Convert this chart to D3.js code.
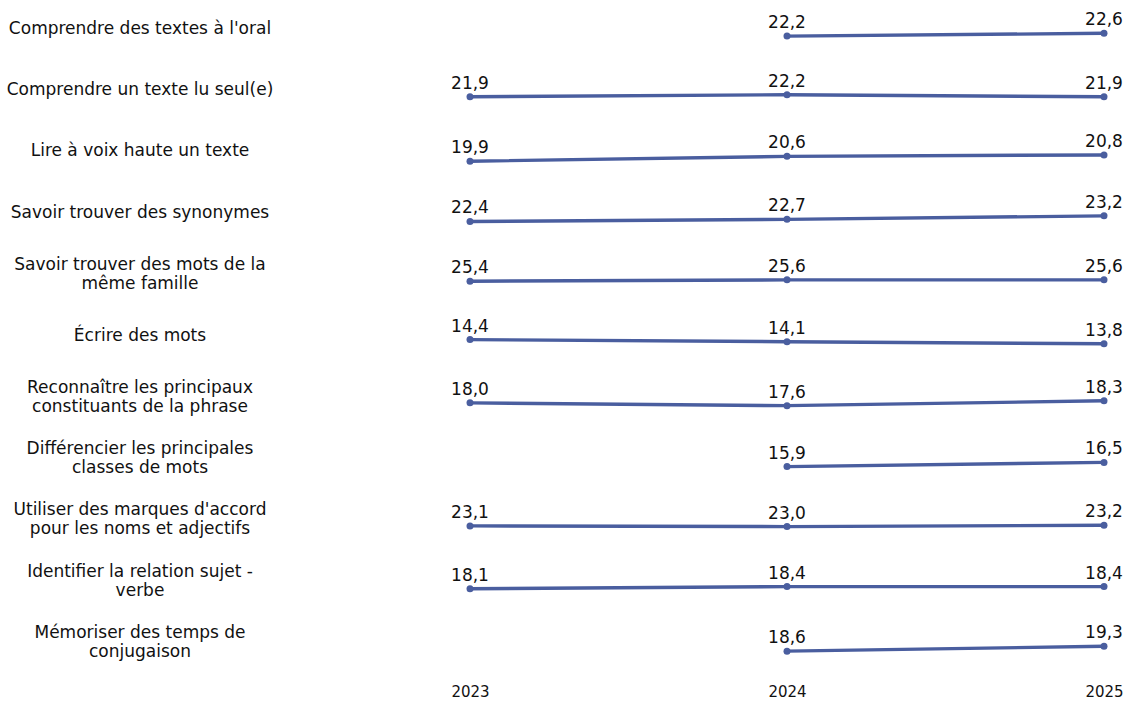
<!DOCTYPE html>
<html>
<head>
<meta charset="utf-8">
<script src="https://cdn.jsdelivr.net/npm/d3@7"></script>
<style>
  body { margin: 0; background: #fff; }
  text { font-family: "DejaVu Sans", sans-serif; fill: #111; }
</style>
</head>
<body>
<svg id="drawing_region"></svg>
<script>
// categories (line breaks as in the original labels)
const categories = [
    "Comprendre des textes à l'oral",
    "Comprendre un texte lu seul(e)",
    "Lire à voix haute un texte",
    "Savoir trouver des synonymes",
    "Savoir trouver des mots de la\nmême famille",
    "Écrire des mots",
    "Reconnaître les principaux\nconstituants de la phrase",
    "Différencier les principales\nclasses de mots",
    "Utiliser des marques d'accord\npour les noms et adjectifs",
    "Identifier la relation sujet -\nverbe",
    "Mémoriser des temps de\nconjugaison"
];
const years = ["2023", "2024", "2025"];
const values2023 = [null, 21.9, 19.9, 22.4, 25.4, 14.4, 18.0, null, 23.1, 18.1, null];
const values2024 = [22.2, 22.2, 20.6, 22.7, 25.6, 14.1, 17.6, 15.9, 23.0, 18.4, 18.6];
const values2025 = [22.6, 21.9, 20.8, 23.2, 25.6, 13.8, 18.3, 16.5, 23.2, 18.4, 19.3];

const rows = categories.map((c, i) => ({
    label: c,
    points: [values2023[i], values2024[i], values2025[i]]
        .map((v, j) => ({ year: years[j], value: v }))
        .filter(d => d.value !== null)
}));

const config = {
    width: 1126,
    height: 702,
    labelX: 140,
    top: 4,
    rowStep: 61.4,
    pxPerUnit: 7,
    color: '#4a5e9f'
};

const fmt = v => d3.format('.1f')(v).replace('.', ',');

const svg = d3.select('#drawing_region')
    .attr('width', config.width)
    .attr('height', config.height);

const xscale = d3.scalePoint()
    .domain(years)
    .range([470, 1104]);

const rowscale = d3.scaleBand()
    .domain(categories)
    .range([config.top, config.top + config.rowStep * categories.length]);

const line = d3.line();

rows.forEach(row => {
    const center = rowscale(row.label) + rowscale.bandwidth() / 2;
    const mean = d3.mean(row.points, d => d.value);
    // each row has its own small y scale centred on its mean
    const yscale = d3.scaleLinear()
        .domain([mean - 4, mean + 4])
        .range([center + 4 * config.pxPerUnit, center - 4 * config.pxPerUnit]);

    const g = svg.append('g');

    // row label
    const lines = row.label.split('\n');
    const lh = 19;
    const label = g.append('text')
        .attr('text-anchor', 'middle')
        .attr('font-size', 17);
    lines.forEach((t, k) => {
        label.append('tspan')
            .attr('x', config.labelX)
            .attr('y', center - 7 - (lines.length - 1) * lh / 2 + k * lh)
            .attr('dy', '0.35em')
            .text(t);
    });

    g.append('path')
        .attr('d', line(row.points.map(d => [xscale(d.year), yscale(d.value)])))
        .attr('fill', 'none')
        .attr('stroke', config.color)
        .attr('stroke-width', 3.4);

    g.selectAll('circle')
        .data(row.points)
        .join('circle')
        .attr('cx', d => xscale(d.year))
        .attr('cy', d => yscale(d.value))
        .attr('r', 3.5)
        .attr('fill', config.color);

    g.selectAll('text.val')
        .data(row.points)
        .join('text')
        .attr('class', 'val')
        .attr('x', d => xscale(d.year))
        .attr('y', d => yscale(d.value) - 8)
        .attr('text-anchor', 'middle')
        .attr('font-size', 17)
        .text(d => fmt(d.value));
});

const xaxis = d3.axisBottom(xscale).tickSize(0).tickPadding(3);
const xg = svg.append('g')
    .attr('transform', 'translate(0, 683)')
    .call(xaxis);
xg.select('.domain').remove();
xg.selectAll('text')
    .attr('font-size', 15)
    .style('font-family', '"DejaVu Sans", sans-serif')
    .attr('fill', '#111');
</script>
</body>
</html>
